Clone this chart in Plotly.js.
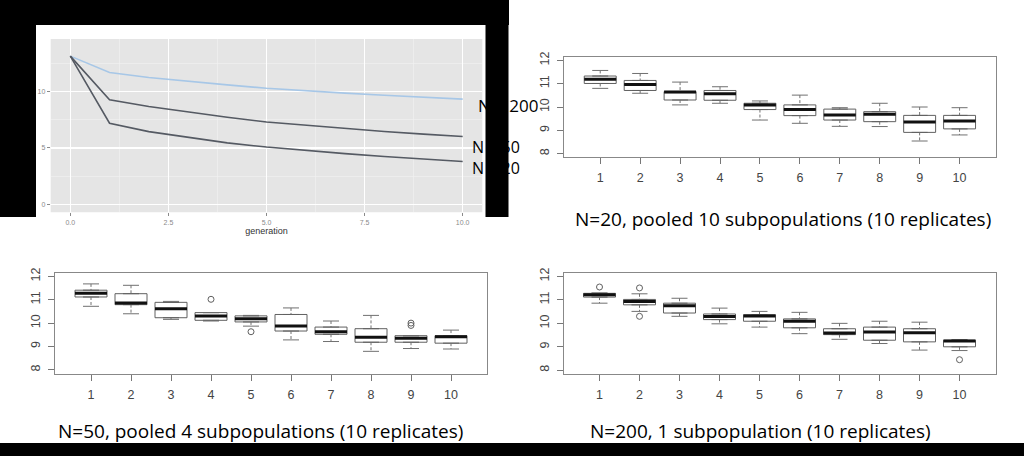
<!DOCTYPE html>
<html><head><meta charset="utf-8">
<script src="https://cdn.plot.ly/plotly-3.0.1.min.js"></script>
<style>html,body{margin:0;padding:0;background:#fff;}#chart{width:1024px;height:456px;}</style>
</head><body><div id="chart"></div>
<script>
// ---- line chart (ggplot) ----
const generations = [0,1,2,3,4,5,6,7,8,9,10];
const hetN200 = [13.15,11.70,11.25,10.90,10.60,10.30,10.07,9.87,9.68,9.50,9.33];
const hetN50  = [13.15,9.27,8.68,8.18,7.73,7.30,7.00,6.72,6.46,6.23,6.02];
const hetN20  = [13.15,7.20,6.45,5.93,5.45,5.08,4.76,4.50,4.24,4.00,3.80];
const seriesLabels = ["N = 200","N = 50","N = 20"];

// ---- box plots: replicates 1..10 ----
const replicates = [1,2,3,4,5,6,7,8,9,10];
const replicateLabels = ["1","2","3","4","5","6","7","8","9","10"];
const yTicks = [8,9,10,11,12];

// N=20, pooled 10 subpopulations
const p20_lo  = [10.80,10.59,10.09,10.16,9.44,9.30,9.17,9.16,8.54,8.80];
const p20_q1  = [11.01,10.71,10.30,10.29,9.89,9.63,9.44,9.37,8.91,9.06];
const p20_med = [11.19,10.97,10.64,10.57,10.09,9.89,9.66,9.69,9.36,9.40];
const p20_q3  = [11.33,11.14,10.66,10.71,10.16,10.09,9.91,9.80,9.64,9.64];
const p20_hi  = [11.57,11.44,11.07,10.87,10.26,10.51,9.97,10.16,10.00,9.97];
const p20_outX = [];
const p20_outY = [];

// N=50, pooled 4 subpopulations
const p50_lo  = [10.72,10.40,10.16,10.09,9.87,9.28,9.21,8.79,8.91,8.89];
const p50_q1  = [11.12,10.79,10.23,10.12,10.05,9.66,9.52,9.18,9.18,9.14];
const p50_med = [11.28,10.86,10.61,10.30,10.19,9.88,9.63,9.39,9.35,9.42];
const p50_q3  = [11.41,11.26,10.89,10.45,10.31,10.37,9.83,9.76,9.46,9.46];
const p50_hi  = [11.68,11.62,10.93,10.45,10.33,10.65,10.09,10.33,9.46,9.70];
const p50_outX = [4,5,9,9];
const p50_outY = [11.02,9.63,10.00,9.90];

// N=200, 1 subpopulation
const p200_lo  = [10.86,10.51,10.30,9.98,9.84,9.56,9.32,9.14,8.86,8.84];
const p200_q1  = [11.12,10.79,10.44,10.16,10.09,9.81,9.52,9.28,9.21,9.00];
const p200_med = [11.22,10.93,10.75,10.29,10.31,10.09,9.59,9.63,9.60,9.25];
const p200_q3  = [11.28,11.02,10.86,10.40,10.37,10.19,9.77,9.84,9.77,9.28];
const p200_hi  = [11.30,11.26,11.07,10.65,10.51,10.47,10.00,10.09,10.05,9.31];
const p200_outX = [1,2,2,10];
const p200_outY = [11.55,11.51,10.30,8.45];

const captions = [
  "N=20, pooled 10 subpopulations (10 replicates)",
  "N=50, pooled 4 subpopulations (10 replicates)",
  "N=200, 1 subpopulation (10 replicates)"
];

// ---------------------------------------------------------
const W = 1024, H = 456;
const px = v => v / W;
const py = v => 1 - v / H;
const capFont = '"Open Sans", "Noto Sans", sans-serif';
const rFont = '"Liberation Sans", Arial, sans-serif';

const traces = [];
const lineColors = ["#a7c7e7", "#555a63", "#555a63"];
[hetN200, hetN50, hetN20].forEach((ys, k) => {
  traces.push({type:"scatter", mode:"lines", x: generations, y: ys, xaxis:"x", yaxis:"y",
    name: seriesLabels[k], line:{color: lineColors[k], width: 1.6}, showlegend:false, hoverinfo:"skip"});
});

function boxPanel(ax, lo, q1, med, q3, hi, outX, outY) {
  const xa = "x" + ax, ya = "y" + ax;
  traces.push({type:"box", x: replicates, q1: q1, median: med, q3: q3,
    lowerfence: q1, upperfence: q3, width: 0.8, fillcolor:"#ffffff",
    line:{color:"#606060", width:1}, xaxis: xa, yaxis: ya, showlegend:false, hoverinfo:"skip"});
  const wx = [], wy = [], sx = [], sy = [], mx = [], my = [];
  replicates.forEach((c, i) => {
    wx.push(c, c, null, c, c, null); wy.push(hi[i], q3[i], null, q1[i], lo[i], null);
    sx.push(c-0.2, c+0.2, null, c-0.2, c+0.2, null); sy.push(hi[i], hi[i], null, lo[i], lo[i], null);
    mx.push(c-0.4, c+0.4, null); my.push(med[i], med[i], null);
  });
  traces.push({type:"scatter", mode:"lines", x: wx, y: wy, xaxis: xa, yaxis: ya,
    line:{color:"#707070", width:1, dash:"3px,2px"}, showlegend:false, hoverinfo:"skip"});
  traces.push({type:"scatter", mode:"lines", x: sx, y: sy, xaxis: xa, yaxis: ya,
    line:{color:"#707070", width:1}, showlegend:false, hoverinfo:"skip"});
  traces.push({type:"scatter", mode:"lines", x: mx, y: my, xaxis: xa, yaxis: ya,
    line:{color:"#111111", width:3}, showlegend:false, hoverinfo:"skip"});
  if (outX.length) traces.push({type:"scatter", mode:"markers", x: outX, y: outY, xaxis: xa, yaxis: ya,
    marker:{symbol:"circle-open", size:6, color:"#606060", line:{width:1}}, showlegend:false, hoverinfo:"skip"});
}
boxPanel(2, p20_lo, p20_q1, p20_med, p20_q3, p20_hi, p20_outX, p20_outY);
boxPanel(3, p50_lo, p50_q1, p50_med, p50_q3, p50_hi, p50_outX, p50_outY);
boxPanel(4, p200_lo, p200_q1, p200_med, p200_q3, p200_hi, p200_outX, p200_outY);

function rX(domain, anchor) {
  return {domain: domain, anchor: anchor, range:[0.1,10.9], tickmode:"array", tickvals: replicates,
    ticktext: replicateLabels, ticks:"outside", ticklen:6, tickcolor:"#777", showline:true, mirror:true,
    linecolor:"#888", linewidth:1, showgrid:false, zeroline:false, ticklabelstandoff:3,
    tickfont:{family: rFont, size:12.5, color:"#444"}, fixedrange:true};
}
function rY(domain, anchor) {
  return {domain: domain, anchor: anchor, range:[7.84,12.16], tickmode:"array", tickvals: yTicks,
    ticktext: yTicks.map(String), tickangle:-90, ticks:"outside", ticklen:6, tickcolor:"#777",
    showline:true, mirror:true, linecolor:"#888", linewidth:1, showgrid:false, zeroline:false,
    ticklabelstandoff:3, tickfont:{family: rFont, size:12.5, color:"#444"}, fixedrange:true};
}

function label(text, x, y, size, anchor) {
  return {xref:"paper", yref:"paper", x: px(x), y: py(y), text: text, showarrow:false,
    xanchor: anchor, yanchor:"middle", align:"left", font:{family: capFont, size: size, color:"#000"}};
}

const layout = {
  width: W, height: H, margin:{l:0,r:0,t:0,b:0}, paper_bgcolor:"#ffffff", plot_bgcolor:"rgba(0,0,0,0)",
  showlegend:false,
  xaxis: {domain:[px(50.7), px(482.3)], anchor:"y", range:[-0.5,10.5], tickmode:"linear", tick0:0, dtick:2.5,
    tickformat:".1f", ticks:"outside", ticklen:3, tickcolor:"#8a8a8a", showgrid:true, gridcolor:"#ffffff",
    gridwidth:1.2, minor:{dtick:1.25, showgrid:true, gridcolor:"#f2f2f2", gridwidth:0.6}, zeroline:false,
    showline:false, tickfont:{family: rFont, size:7, color:"#8a8a8a"},
    title:{text:"generation", font:{family: rFont, size:9, color:"#333"}, standoff:1}, fixedrange:true},
  yaxis: {domain:[py(212.3), py(39)], anchor:"x", range:[-0.71,14.67], tickmode:"linear", tick0:0, dtick:5,
    ticks:"outside", ticklen:3, tickcolor:"#8a8a8a", showgrid:true, gridcolor:"#ffffff", gridwidth:1.2,
    minor:{dtick:2.5, showgrid:true, gridcolor:"#f2f2f2", gridwidth:0.6}, zeroline:false, showline:false,
    tickfont:{family: rFont, size:7, color:"#8a8a8a"}, fixedrange:true},
  xaxis2: rX([px(564.3), px(995.5)], "y2"),
  yaxis2: rY([py(157.3), py(56.7)], "x2"),
  xaxis3: rX([px(55), px(487)], "y3"),
  yaxis3: rY([py(373.5), py(272.7)], "x3"),
  xaxis4: rX([px(563.5), px(995.5)], "y4"),
  yaxis4: rY([py(374), py(272.7)], "x4"),
  shapes: [
    {type:"rect", xref:"x domain", yref:"y domain", x0:0, x1:1, y0:0, y1:1, fillcolor:"#e5e5e5", line:{width:0}, layer:"below"},
    {type:"rect", xref:"paper", yref:"paper", x0:0, x1:px(509), y0:py(25), y1:1, fillcolor:"#000", line:{width:0}, layer:"above"},
    {type:"rect", xref:"paper", yref:"paper", x0:0, x1:px(36), y0:py(217), y1:1, fillcolor:"#000", line:{width:0}, layer:"above"},
    {type:"rect", xref:"paper", yref:"paper", x0:px(485.5), x1:px(508.5), y0:py(217), y1:1, fillcolor:"#000", line:{width:0}, layer:"above"},
    {type:"rect", xref:"paper", yref:"paper", x0:0, x1:1, y0:0, y1:py(443), fillcolor:"#000", line:{width:0}, layer:"above"}
  ],
  annotations: [
    label(captions[0], 783, 219, 19, "center"),
    label(captions[1], 260, 431, 19, "center"),
    label(captions[2], 760, 431, 19, "center"),
    label(seriesLabels[0], 476, 106, 17, "left"),
    label(seriesLabels[1] + "<br>" + seriesLabels[2], 470, 157, 16, "left")
  ]
};

Plotly.newPlot("chart", traces, layout, {staticPlot:true, displayModeBar:false});
</script>
</body></html>
